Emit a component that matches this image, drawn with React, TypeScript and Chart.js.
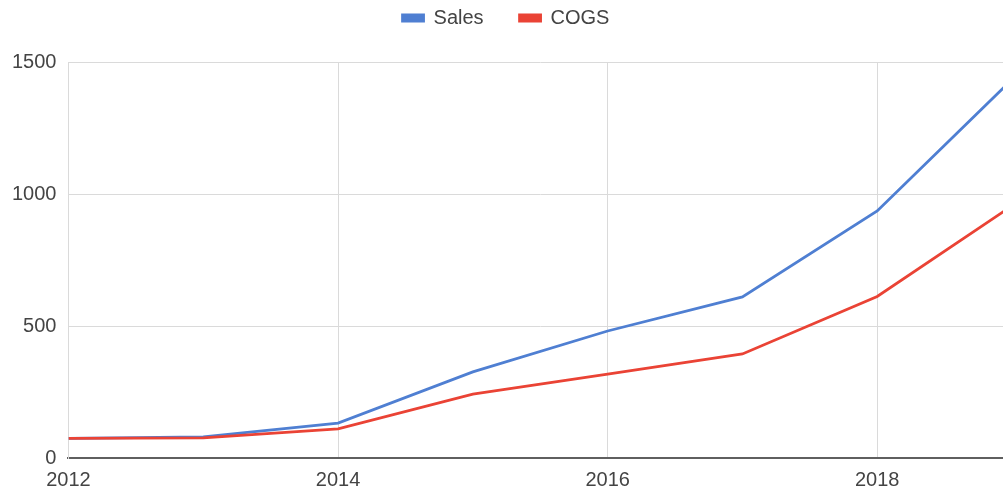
import React, { useEffect, useRef } from "react";
import { Chart, registerables } from "chart.js";

Chart.register(...registerables);

const years = [2012, 2013, 2014, 2015, 2016, 2017, 2018, 2019];
const sales = [74, 80, 132, 326, 481, 610, 936, 1434];
const cogs = [74, 76, 110, 242, 318, 394, 612, 955];
const xTicks = [2012, 2014, 2016, 2018];
const yTicks = [0, 500, 1000, 1500];

const FONT = "'Liberation Sans', Arial, sans-serif";
const LEGEND_EXTRA = 24;

const legendSpacer = {
  id: "legendSpacer",
  beforeLayout(chart: any) {
    const legend = chart.legend;
    if (legend && !legend._patched) {
      const orig = legend.fit;
      legend.fit = function () {
        orig.call(this);
        this.height += LEGEND_EXTRA;
      };
      legend._patched = true;
    }
  },
};

export default function App() {
  const ref = useRef<HTMLCanvasElement | null>(null);

  useEffect(() => {
    if (!ref.current) return;
    const chart = new Chart(ref.current, {
      type: "line",
      data: {
        datasets: [
          {
            label: "Sales",
            data: years.map((y, i) => ({ x: y, y: sales[i] })),
            borderColor: "#4f7fd2",
            backgroundColor: "#4f7fd2",
            borderWidth: 2.8,
            pointRadius: 0,
            tension: 0,
            order: 1,
          },
          {
            label: "COGS",
            data: years.map((y, i) => ({ x: y, y: cogs[i] })),
            borderColor: "#ea4335",
            backgroundColor: "#ea4335",
            borderWidth: 2.8,
            pointRadius: 0,
            tension: 0,
            order: 0,
          },
        ],
      },
      options: {
        animation: false,
        responsive: true,
        maintainAspectRatio: false,
        layout: { padding: { left: 0, right: 4, top: 0, bottom: 0 } },
        plugins: {
          tooltip: { enabled: false },
          legend: {
            position: "top",
            labels: {
              boxWidth: 21,
              boxHeight: 6,
              padding: 36,
              color: "#444",
              font: { family: FONT, size: 20 },
              sort: (a: any, b: any) => a.datasetIndex - b.datasetIndex,
            },
          },
        },
        scales: {
          x: {
            type: "linear",
            min: 2012,
            max: 2019,
            afterBuildTicks: (scale: any) => {
              scale.ticks = xTicks.map((v) => ({ value: v }));
            },
            grid: { color: "#dadada", lineWidth: 1, drawTicks: false },
            border: { color: "#5f5f5f", width: 2 },
            ticks: {
              padding: 10,
              color: "#444",
              font: { family: FONT, size: 20 },
              callback: (v: any) => String(v),
              maxRotation: 0,
              autoSkip: false,
            },
          },
          y: {
            min: 0,
            max: 1500,
            afterBuildTicks: (scale: any) => {
              scale.ticks = yTicks.map((v) => ({ value: v }));
            },
            grid: { color: "#dadada", lineWidth: 1, drawTicks: false },
            border: { color: "#dadada", width: 1 },
            ticks: {
              padding: 12,
              color: "#444",
              font: { family: FONT, size: 20 },
              callback: (v: any) => String(v),
            },
          },
        },
      },
      plugins: [legendSpacer],
    });
    return () => chart.destroy();
  }, []);

  return (
    <div
      style={{
        position: "fixed",
        left: 0,
        top: 0,
        width: 1003,
        height: 492,
        overflow: "hidden",
        background: "#fff",
      }}
    >
      <div
        style={{
          position: "absolute",
          left: 0,
          top: -28,
          width: 1016,
          height: 530,
        }}
      >
        <canvas ref={ref} />
      </div>
    </div>
  );
}
